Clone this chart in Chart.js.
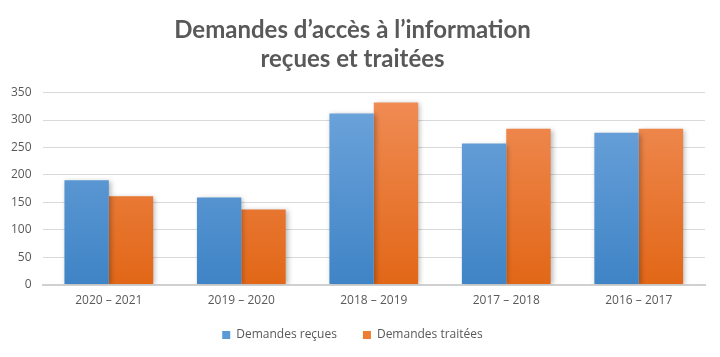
<!DOCTYPE html>
<html><head><meta charset="utf-8">
<script src="https://cdn.jsdelivr.net/npm/chart.js@4"></script>
<style>html,body{margin:0;padding:0;background:#fff}#wrap{width:720px;height:357px}</style>
</head><body><div id="wrap"><canvas id="c" width="720" height="357"></canvas></div>
<script>
const categories = ["2020 – 2021", "2019 – 2020", "2018 – 2019", "2017 – 2018", "2016 – 2017"];
const recues = [190, 159, 312, 257, 277];
const traitees = [161, 137, 332, 284, 284];
const yTicks = [0, 50, 100, 150, 200, 250, 300, 350];

function grad(top, bottom) {
  return (ctx) => {
    const ca = ctx.chart.chartArea;
    if (!ca) return bottom;
    const g = ctx.chart.ctx.createLinearGradient(0, ca.top, 0, ca.bottom);
    g.addColorStop(0, top);
    g.addColorStop(1, bottom);
    return g;
  };
}
const shadow = {
  id: 'shadow',
  beforeDatasetsDraw(chart) {
    const c = chart.ctx; c.save();
    c.shadowColor = 'rgba(0,0,0,0.28)'; c.shadowBlur = 5; c.shadowOffsetX = 2; c.shadowOffsetY = 1;
  },
  afterDatasetsDraw(chart) { chart.ctx.restore(); }
};
const LEG_FIT = 16;
const LEG_MOVE = 14;
const legendTweak = {
  id: 'legendTweak',
  beforeLayout(chart) {
    const lg = chart.legend;
    if (lg && !lg._wrapped) {
      const f = lg.fit;
      lg.fit = function () { f.apply(this, arguments); this.height -= LEG_FIT; };
      lg._wrapped = true;
    }
  },
  afterLayout(chart) {
    const lg = chart.legend;
    if (lg) { lg.top -= LEG_MOVE; }
  }
};

new Chart(document.getElementById('c'), {
  type: 'bar',
  data: {
    labels: categories,
    datasets: [
      { label: 'Demandes reçues', data: recues,
        backgroundColor: grad('#6fa5dc', '#3f84c6'), borderWidth: 0,
        categoryPercentage: 0.67, barPercentage: 1 },
      { label: 'Demandes traitées', data: traitees,
        backgroundColor: grad('#f08d57', '#e26717'), borderWidth: 0,
        categoryPercentage: 0.67, barPercentage: 1 }
    ]
  },
  plugins: [shadow, legendTweak],
  options: {
    responsive: false, animation: false,
    layout: { padding: { left: 0, right: 15, top: 0, bottom: 8 } },
    plugins: {
      title: { display: true, text: ['Demandes d’accès à l’information', 'reçues et traitées'],
        color: '#595959', font: { family: 'Lato', size: 24, weight: 'bold' }, lineHeight: 1.3,
        padding: { top: 16, bottom: 19 } },
      legend: { position: 'bottom',
        labels: { color: '#595959', font: { family: 'Open Sans', size: 12 }, boxWidth: 8, boxHeight: 8, padding: 26,
          generateLabels(chart) {
            const cols = ['#5b9bd5', '#ed7d31'];
            return chart.data.datasets.map((d, i) => ({ text: d.label, fillStyle: cols[i], strokeStyle: cols[i], lineWidth: 0, datasetIndex: i, fontColor: '#595959' }));
          } } },
      tooltip: { enabled: false }
    },
    scales: {
      x: { grid: { display: false, drawTicks: false }, border: { color: '#d0d0d0', width: 2 },
        ticks: { color: '#595959', font: { family: 'Open Sans', size: 12 }, padding: 9 } },
      y: { min: 0, max: 350, afterBuildTicks(s) { s.ticks = yTicks.map(v => ({ value: v })); },
        grid: { color: '#d9d9d9', drawTicks: false }, border: { display: false },
        ticks: { color: '#595959', font: { family: 'Open Sans', size: 12 }, padding: 11 } }
    }
  }
});
</script></body></html>
